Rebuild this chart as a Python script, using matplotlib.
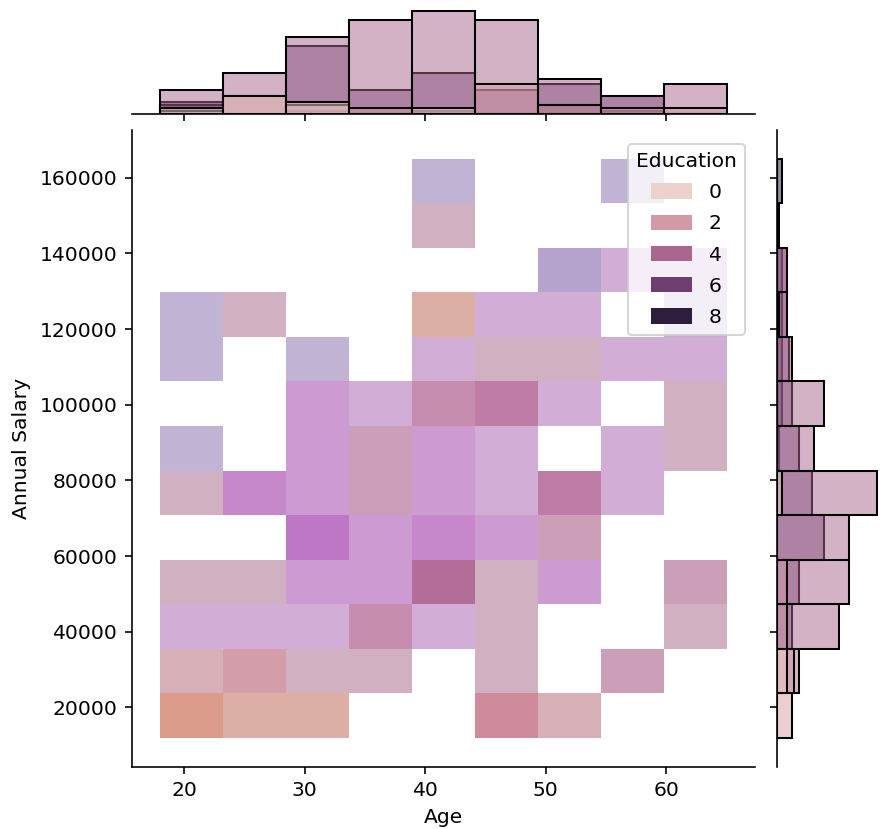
import numpy as np
import matplotlib
matplotlib.use("Agg")
import matplotlib.pyplot as plt
from matplotlib.colors import ListedColormap, Normalize, to_rgba
from matplotlib.patches import Patch
import seaborn as sns
from seaborn.external import husl

# histogram bins
age_range = (18, 65)
salary_range = (12000, 165000)
n_age_bins = 9
n_salary_bins = 13

legend_levels = [0, 2, 4, 6, 8]

# joint cells: education level on top and its count, rows from the top salary bin down
cell_level = [
    [0, 0, 0, 0, 8, 0, 0, 8, 0],
    [0, 0, 0, 0, 4, 0, 0, 0, 0],
    [0, 0, 0, 0, 0, 0, 8, 6, 6],
    [8, 4, 0, 0, 0, 6, 6, 0, 8],
    [8, 0, 8, 0, 6, 4, 4, 6, 6],
    [0, 0, 6, 6, 4, 4, 6, 0, 4],
    [8, 0, 6, 4, 6, 6, 0, 6, 4],
    [4, 6, 6, 4, 6, 6, 4, 6, 0],
    [0, 0, 6, 6, 6, 6, 4, 0, 0],
    [4, 4, 6, 6, 4, 4, 6, 0, 4],
    [6, 6, 6, 4, 6, 4, 0, 0, 4],
    [2, 2, 4, 4, 0, 4, 0, 4, 0],
    [0, 0, 0, 0, 0, 2, 2, 0, 0],
]
cell_count = [
    [0, 0, 0, 0, 1, 0, 0, 1, 0],
    [0, 0, 0, 0, 1, 0, 0, 0, 0],
    [0, 0, 0, 0, 0, 0, 2, 1, 1],
    [1, 1, 0, 0, 1, 1, 1, 0, 1],
    [1, 0, 1, 0, 1, 1, 1, 1, 1],
    [0, 0, 2, 1, 3, 4, 1, 0, 1],
    [1, 0, 2, 2, 2, 1, 0, 1, 1],
    [1, 3, 2, 2, 2, 1, 4, 1, 0],
    [0, 0, 4, 2, 3, 2, 2, 0, 0],
    [1, 1, 2, 2, 5, 1, 2, 0, 2],
    [1, 1, 1, 3, 1, 1, 0, 0, 1],
    [1, 2, 1, 1, 0, 1, 0, 2, 0],
    [2, 1, 1, 0, 0, 3, 1, 0, 0],
]
count_max = 9

# marginal counts per education level, by age bin
age_edu0 = [2, 6, 4, 0, 2, 0, 0, 0, 0]
age_edu2 = [1, 6, 3, 2, 0, 10, 3, 2, 2]
age_edu4 = [8, 14, 26, 32, 35, 32, 12, 6, 10]
age_edu6 = [3, 6, 23, 8, 14, 8, 10, 6, 0]
age_edu8 = [4, 0, 1, 0, 1, 0, 3, 1, 0]

# marginal counts per education level, by salary bin (lowest first)
sal_edu0 = [6, 4, 0, 0, 0, 2, 0, 0, 0, 1, 0, 0, 0]
sal_edu2 = [6, 7, 4, 4, 0, 0, 0, 0, 0, 0, 0, 0, 0]
sal_edu4 = [0, 9, 25, 29, 29, 40, 15, 19, 6, 4, 4, 1, 0]
sal_edu6 = [0, 0, 6, 9, 19, 14, 9, 6, 5, 4, 4, 0, 0]
sal_edu8 = [0, 0, 0, 0, 0, 0, 1, 2, 2, 2, 2, 0, 2]

age_counts = {0: age_edu0, 2: age_edu2, 4: age_edu4, 6: age_edu6, 8: age_edu8}
sal_counts = {0: sal_edu0, 2: sal_edu2, 4: sal_edu4, 6: sal_edu6, 8: sal_edu8}


def cmap_from_color(color):
    # same ramp seaborn uses for hued bivariate histograms
    r, g, b, _ = to_rgba(color)
    h, s, _ = husl.rgb_to_husl(r, g, b)
    xx = np.linspace(-1, 1, int(1.15 * 256))[:256]
    ramp = np.zeros((256, 3))
    ramp[:, 0] = h
    ramp[:, 1] = s * np.cos(xx)
    ramp[:, 2] = np.linspace(35, 80, 256)
    colors = np.clip([husl.husl_to_rgb(*hsl) for hsl in ramp], 0, 1)
    return ListedColormap(colors[::-1])


hue_cmap = sns.cubehelix_palette(as_cmap=True)
hue_norm = Normalize(0, 8)

age_edges = np.linspace(age_range[0], age_range[1], n_age_bins + 1)
sal_edges = np.linspace(salary_range[0], salary_range[1], n_salary_bins + 1)
age_w = age_edges[1] - age_edges[0]
sal_w = sal_edges[1] - sal_edges[0]

dpi = 146
W, H = 884, 829
fig = plt.figure(figsize=(W / dpi, H / dpi), dpi=dpi)
ax = fig.add_axes([131.5 / W, (H - 766.5) / H, 623.5 / W, 636.5 / H])
ax_mx = fig.add_axes([131.5 / W, (H - 114) / H, 623.5 / W, 108.5 / H], sharex=ax)
ax_my = fig.add_axes([776.7 / W, (H - 766.5) / H, 105 / W, 636.5 / H], sharey=ax)

# joint histogram, one layer per education level
level_grid = np.flipud(np.array(cell_level))
count_grid = np.flipud(np.array(cell_count))
for lev in sorted(age_counts):
    heights = np.ma.masked_where((level_grid != lev) | (count_grid <= 0), count_grid)
    if heights.mask.all():
        continue
    ax.pcolormesh(age_edges, sal_edges, heights, cmap=cmap_from_color(hue_cmap(hue_norm(lev))),
                  vmin=0, vmax=count_max)

pad_x = 0.05 * (age_range[1] - age_range[0])
pad_y = 0.05 * (salary_range[1] - salary_range[0])
ax.set_xlim(age_range[0] - pad_x, age_range[1] + pad_x)
ax.set_ylim(salary_range[0] - pad_y, salary_range[1] + pad_y)
ax.set_xlabel("Age")
ax.set_ylabel("Annual Salary")
ax.spines[["top", "right"]].set_visible(False)

handles = [Patch(facecolor=hue_cmap(hue_norm(v)), edgecolor="none", label=str(v)) for v in legend_levels]
ax.legend(handles=handles, title="Education", loc="upper right",
          bbox_to_anchor=(1, 0.994), labelspacing=0.6, handleheight=0.8)

# marginal histograms, layered, highest level drawn first
for lev in sorted(age_counts, reverse=True):
    c = hue_cmap(hue_norm(lev))
    ax_mx.bar(age_edges[:-1], age_counts[lev], width=age_w, align="edge",
              facecolor=to_rgba(c, 0.5), edgecolor="black", linewidth=1)
    ax_my.barh(sal_edges[:-1], sal_counts[lev], height=sal_w, align="edge",
               facecolor=to_rgba(c, 0.5), edgecolor="black", linewidth=1)

ax_mx.spines[["top", "right", "left"]].set_visible(False)
ax_mx.tick_params(axis="x", labelbottom=False)
ax_mx.tick_params(axis="y", left=False, labelleft=False)
ax_my.spines[["top", "right", "bottom"]].set_visible(False)
ax_my.tick_params(axis="y", labelleft=False)
ax_my.tick_params(axis="x", bottom=False, labelbottom=False)

fig.savefig("out.png", dpi=dpi)
